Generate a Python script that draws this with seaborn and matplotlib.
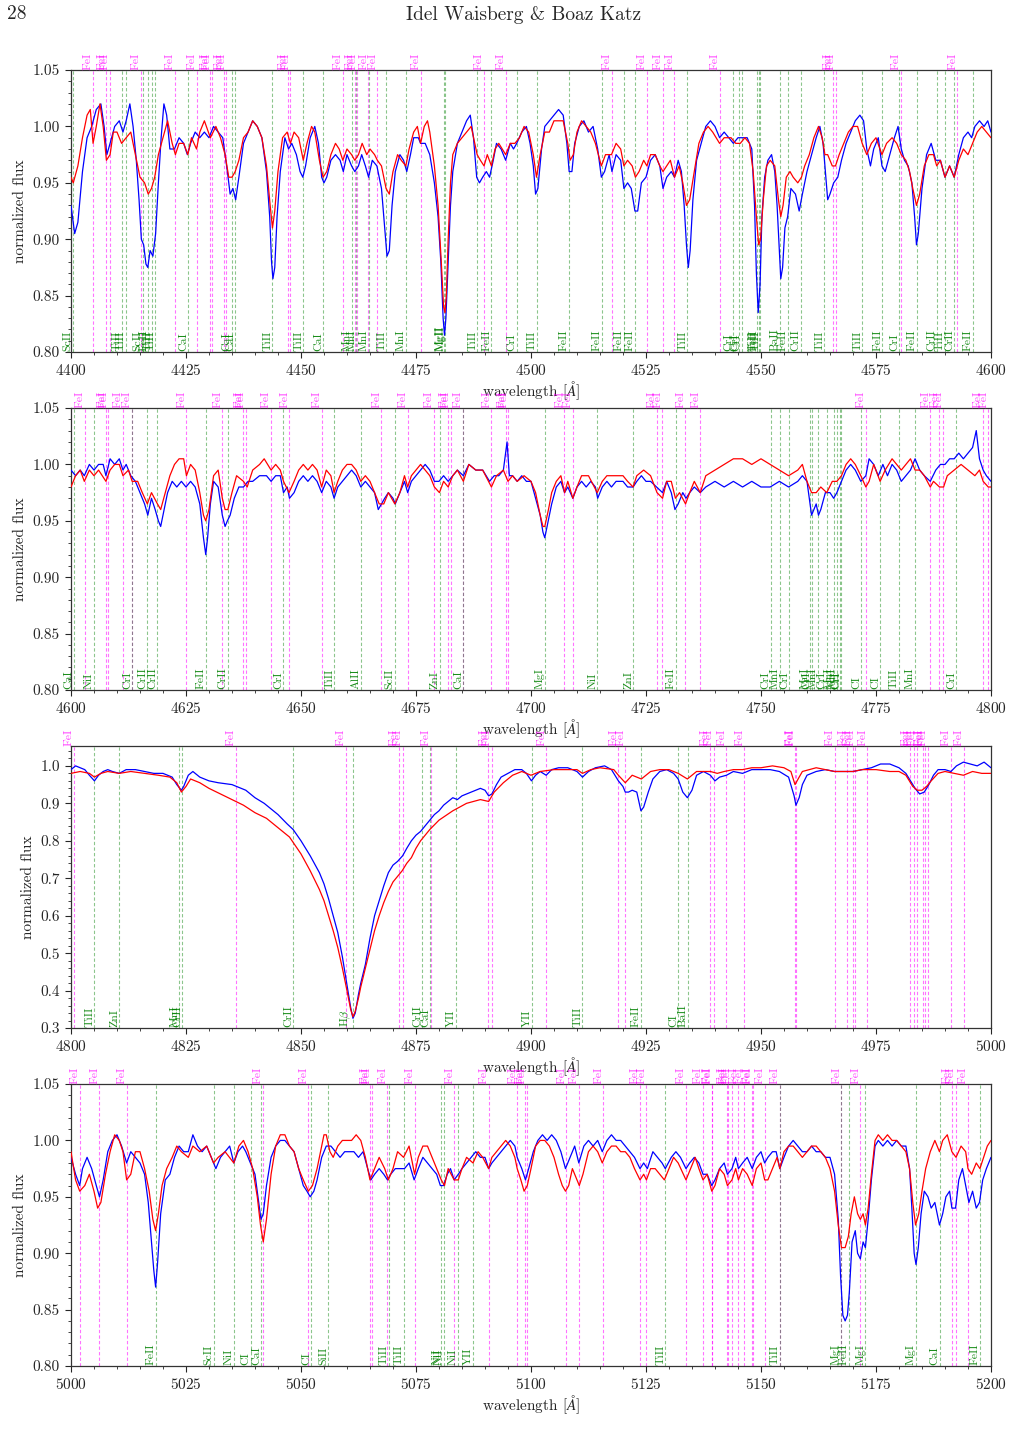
#!/usr/bin/env python
# filename: plot.py

import numpy as np
import matplotlib
matplotlib.use('Agg')
import matplotlib.pyplot as plt
import matplotlib.transforms as mtrans
from matplotlib.ticker import MultipleLocator, AutoMinorLocator
import seaborn as sns

# ---------------- panel 1: 4400-4600 ----------------
w1_obs = [4400.0, 4400.8, 4401.5, 4402.5, 4403.5, 4404.5, 4405.5, 4406.5, 4407.2, 4407.8, 4408.5, 4409.5,
          4410.5, 4411.3, 4412.0, 4412.8, 4413.5, 4414.2, 4414.8, 4415.3, 4415.8, 4416.3, 4416.7, 4417.2,
          4417.8, 4418.4, 4419.0, 4419.6, 4420.2, 4420.8, 4421.5, 4422.5, 4423.5, 4424.5, 4425.3, 4426.0,
          4427.0, 4428.0, 4429.0, 4430.0, 4431.0, 4432.0, 4433.0, 4434.0, 4434.6, 4435.2, 4435.8, 4436.5,
          4437.5, 4438.5, 4439.5, 4440.5, 4441.5, 4442.5, 4443.2, 4443.6, 4443.9, 4444.3, 4444.8, 4445.5,
          4446.5, 4447.3, 4448.0, 4449.0, 4449.8, 4450.4, 4451.0, 4452.0, 4453.0, 4453.8, 4454.5, 4455.0,
          4455.6, 4456.5, 4457.5, 4458.5, 4459.2, 4460.0, 4461.0, 4461.7, 4462.5, 4463.2, 4464.0, 4464.7,
          4465.5, 4466.5, 4467.5, 4468.3, 4468.7, 4469.2, 4469.8, 4470.5, 4471.5, 4472.3, 4473.0, 4473.8,
          4474.5, 4475.5, 4476.0, 4477.0, 4478.0, 4479.0, 4479.8, 4480.4, 4480.9, 4481.2, 4481.5, 4482.0,
          4482.5, 4483.0, 4484.0, 4485.0, 4486.0, 4486.8, 4487.5, 4488.2, 4488.8, 4489.5, 4490.3, 4491.0,
          4491.8, 4492.5, 4493.5, 4494.5, 4495.5, 4496.2, 4496.9, 4498.0, 4499.0, 4499.8, 4500.5, 4501.0,
          4501.5, 4502.3, 4503.0, 4504.0, 4505.0, 4506.0, 4507.0, 4507.8, 4508.3, 4508.9, 4509.5, 4510.5,
          4511.5, 4512.5, 4513.5, 4514.5, 4515.3, 4516.0, 4517.0, 4517.6, 4518.5, 4519.5, 4520.2, 4521.0,
          4521.8, 4522.6, 4523.2, 4524.0, 4525.0, 4526.0, 4527.0, 4528.0, 4528.7, 4529.5, 4530.5, 4531.2,
          4532.0, 4532.7, 4533.3, 4533.8, 4534.2, 4534.6, 4535.2, 4536.0, 4537.0, 4538.0, 4539.0, 4540.0,
          4541.0, 4542.0, 4543.0, 4544.0, 4545.0, 4546.0, 4547.0, 4548.0, 4548.6, 4549.0, 4549.4, 4549.8,
          4550.2, 4550.8, 4551.5, 4552.3, 4553.0, 4553.5, 4554.0, 4554.3, 4554.7, 4555.2, 4555.8, 4556.5,
          4557.5, 4558.3, 4559.0, 4560.0, 4561.0, 4562.0, 4562.8, 4563.5, 4564.0, 4564.5, 4565.0, 4565.8,
          4566.7, 4567.5, 4568.5, 4569.5, 4570.5, 4571.5, 4572.3, 4573.0, 4573.8, 4574.5, 4575.5, 4576.3,
          4577.0, 4578.0, 4579.0, 4579.8, 4580.5, 4581.2, 4582.0, 4582.8, 4583.4, 4583.8, 4584.2, 4585.0,
          4586.0, 4587.0, 4588.0, 4589.0, 4590.0, 4591.0, 4592.0, 4593.0, 4594.0, 4595.0, 4595.8, 4596.5,
          4597.5, 4598.5, 4599.3, 4600.0]
f1_obs = [0.930, 0.905, 0.915, 0.960, 0.990, 1.000, 1.015, 1.020, 1.000, 0.975, 0.985, 1.000,
          1.005, 0.995, 1.005, 1.020, 1.000, 0.970, 0.935, 0.900, 0.895, 0.878, 0.875, 0.890,
          0.885, 0.905, 0.950, 0.990, 1.020, 1.010, 0.980, 0.980, 0.990, 0.985, 0.975, 0.985,
          0.995, 0.990, 0.995, 0.990, 1.000, 0.995, 0.990, 0.960, 0.940, 0.945, 0.935, 0.955,
          0.985, 0.995, 1.005, 1.000, 0.990, 0.960, 0.920, 0.880, 0.865, 0.875, 0.920, 0.960,
          0.990, 0.980, 0.985, 0.975, 0.960, 0.955, 0.965, 0.990, 1.000, 0.985, 0.955, 0.950,
          0.955, 0.970, 0.975, 0.970, 0.960, 0.975, 0.965, 0.960, 0.965, 0.975, 0.965, 0.955,
          0.970, 0.965, 0.945, 0.905, 0.885, 0.890, 0.930, 0.960, 0.975, 0.970, 0.960, 0.975,
          0.990, 0.990, 0.985, 0.985, 0.975, 0.950, 0.920, 0.880, 0.830, 0.815, 0.830, 0.880,
          0.930, 0.960, 0.985, 0.995, 1.005, 1.010, 0.990, 0.955, 0.950, 0.955, 0.960, 0.955,
          0.970, 0.985, 0.980, 0.970, 0.985, 0.980, 0.985, 0.995, 1.000, 0.985, 0.965, 0.940,
          0.945, 0.980, 1.000, 1.005, 1.010, 1.015, 1.010, 0.985, 0.960, 0.960, 0.985, 1.000,
          1.005, 0.995, 1.000, 0.980, 0.955, 0.960, 0.975, 0.960, 0.975, 0.970, 0.945, 0.950,
          0.945, 0.925, 0.925, 0.950, 0.955, 0.970, 0.975, 0.965, 0.945, 0.955, 0.960, 0.955,
          0.970, 0.960, 0.930, 0.895, 0.875, 0.890, 0.935, 0.970, 0.985, 1.000, 1.005, 1.000,
          0.990, 0.995, 0.990, 0.985, 0.990, 0.990, 0.990, 0.980, 0.930, 0.870, 0.835, 0.860,
          0.920, 0.955, 0.970, 0.975, 0.960, 0.930, 0.890, 0.865, 0.875, 0.910, 0.920, 0.945,
          0.940, 0.925, 0.940, 0.960, 0.975, 0.990, 1.000, 0.985, 0.960, 0.935, 0.940, 0.950,
          0.955, 0.970, 0.985, 0.995, 1.005, 1.010, 1.005, 0.980, 0.965, 0.980, 0.990, 0.965,
          0.960, 0.975, 0.990, 1.000, 0.980, 0.970, 0.965, 0.950, 0.920, 0.895, 0.905, 0.945,
          0.975, 0.985, 0.970, 0.970, 0.955, 0.965, 0.955, 0.975, 0.990, 0.995, 0.990, 1.000,
          1.005, 1.000, 1.005, 0.995]
w1_mod = [4400.0, 4400.5, 4401.5, 4402.5, 4403.5, 4404.2, 4404.8, 4405.5, 4406.3, 4407.0, 4407.7, 4408.5,
          4409.2, 4410.0, 4411.0, 4412.0, 4413.0, 4414.0, 4415.0, 4416.0, 4416.8, 4417.5, 4418.2, 4419.0,
          4420.0, 4421.0, 4422.0, 4422.7, 4423.5, 4424.5, 4425.4, 4426.2, 4427.3, 4428.0, 4429.0, 4430.3,
          4431.5, 4432.5, 4433.5, 4434.3, 4435.0, 4435.7, 4436.5, 4437.5, 4438.5, 4439.5, 4440.5, 4441.5,
          4442.5, 4443.3, 4443.8, 4444.3, 4445.0, 4446.0, 4447.0, 4447.7, 4448.5, 4449.5, 4450.5, 4451.3,
          4452.3, 4453.0, 4454.0, 4454.8, 4455.6, 4456.5, 4457.5, 4458.3, 4459.1, 4460.0, 4461.0, 4461.7,
          4462.5, 4463.3, 4464.3, 4465.0, 4466.0, 4466.6, 4467.5, 4468.5, 4469.2, 4470.0, 4471.0, 4471.8,
          4472.8, 4473.5, 4474.5, 4475.3, 4476.0, 4476.8, 4477.5, 4478.0, 4479.0, 4479.8, 4480.5, 4481.0,
          4481.3, 4481.6, 4482.0, 4482.5, 4483.0, 4484.0, 4485.0, 4486.0, 4487.0, 4488.3, 4489.0, 4489.8,
          4490.5, 4491.4, 4492.2, 4493.0, 4494.5, 4495.5, 4496.5, 4497.5, 4498.5, 4499.5, 4500.5, 4501.2,
          4502.0, 4503.0, 4504.0, 4505.0, 4506.0, 4507.0, 4508.0, 4508.5, 4509.2, 4510.0, 4511.0, 4512.0,
          4513.0, 4514.0, 4515.3, 4516.2, 4517.5, 4518.5, 4519.5, 4520.2, 4521.0, 4522.0, 4522.7, 4523.5,
          4524.5, 4525.2, 4526.0, 4527.0, 4528.0, 4528.7, 4529.5, 4530.3, 4531.2, 4532.2, 4533.0, 4533.8,
          4534.5, 4535.5, 4536.5, 4537.5, 4538.5, 4539.5, 4541.0, 4542.0, 4543.5, 4544.5, 4545.5, 4546.5,
          4547.5, 4548.3, 4549.0, 4549.5, 4549.9, 4550.5, 4551.2, 4552.0, 4553.0, 4553.8, 4554.3, 4554.8,
          4555.5, 4556.3, 4557.0, 4558.0, 4558.8, 4559.5, 4560.5, 4561.5, 4562.5, 4563.3, 4563.9, 4564.5,
          4565.5, 4566.2, 4567.0, 4568.0, 4569.0, 4570.0, 4571.0, 4572.0, 4573.0, 4574.0, 4575.0, 4576.3,
          4577.3, 4578.5, 4579.5, 4580.5, 4581.5, 4582.3, 4583.0, 4583.8, 4584.5, 4585.5, 4586.5, 4587.5,
          4588.2, 4589.0, 4590.0, 4591.0, 4592.0, 4593.0, 4594.0, 4595.0, 4596.0, 4597.0, 4598.0, 4599.0,
          4600.0]
f1_mod = [0.955, 0.950, 0.965, 0.990, 1.010, 1.015, 0.985, 1.000, 1.020, 1.000, 0.970, 0.975,
          0.995, 0.995, 0.985, 0.990, 0.995, 0.975, 0.955, 0.950, 0.940, 0.945, 0.955, 0.975,
          0.990, 1.005, 0.985, 0.975, 0.985, 0.985, 0.975, 0.990, 0.980, 0.995, 1.005, 0.990,
          1.000, 0.990, 0.975, 0.955, 0.955, 0.960, 0.970, 0.990, 0.995, 1.005, 1.000, 0.990,
          0.965, 0.930, 0.910, 0.925, 0.960, 0.990, 0.995, 0.985, 0.995, 0.990, 0.970, 0.985,
          1.000, 0.995, 0.970, 0.955, 0.960, 0.975, 0.985, 0.980, 0.970, 0.980, 0.975, 0.970,
          0.975, 0.985, 0.975, 0.980, 0.975, 0.970, 0.965, 0.945, 0.940, 0.960, 0.975, 0.970,
          0.965, 0.980, 0.995, 1.000, 0.985, 1.000, 1.005, 0.995, 0.965, 0.930, 0.880, 0.840,
          0.835, 0.850, 0.900, 0.950, 0.975, 0.985, 0.990, 0.995, 1.000, 0.975, 0.970, 0.965,
          0.975, 0.965, 0.980, 0.985, 0.975, 0.985, 0.985, 0.990, 1.000, 0.995, 0.975, 0.955,
          0.975, 0.995, 0.995, 1.005, 1.005, 1.005, 0.985, 0.970, 0.975, 0.995, 1.005, 1.000,
          0.995, 0.985, 0.965, 0.975, 0.975, 0.985, 0.980, 0.965, 0.970, 0.965, 0.955, 0.960,
          0.970, 0.965, 0.975, 0.975, 0.965, 0.960, 0.965, 0.970, 0.955, 0.965, 0.950, 0.930,
          0.935, 0.960, 0.985, 0.995, 1.000, 0.995, 0.985, 0.990, 0.990, 0.985, 0.985, 0.990,
          0.985, 0.960, 0.920, 0.895, 0.900, 0.935, 0.965, 0.970, 0.965, 0.935, 0.920, 0.930,
          0.955, 0.960, 0.955, 0.950, 0.955, 0.965, 0.975, 0.990, 1.000, 0.990, 0.975, 0.975,
          0.965, 0.965, 0.975, 0.985, 0.995, 1.000, 1.000, 0.985, 0.975, 0.985, 0.990, 0.975,
          0.985, 0.990, 0.985, 0.975, 0.970, 0.960, 0.945, 0.930, 0.940, 0.965, 0.975, 0.975,
          0.965, 0.970, 0.955, 0.965, 0.955, 0.970, 0.980, 0.975, 0.985, 0.995, 1.000, 0.995,
          0.990]

# ---------------- panel 2: 4600-4800 ----------------
w2_obs = [4600.0, 4601.0, 4602.0, 4602.9, 4604.0, 4605.0, 4606.0, 4607.0, 4607.6, 4608.5, 4609.5, 4610.5,
          4611.3, 4612.0, 4613.0, 4614.0, 4615.0, 4616.0, 4616.7, 4617.5, 4618.3, 4619.0, 4619.5, 4620.0,
          4621.0, 4622.0, 4623.0, 4624.0, 4625.0, 4626.0, 4627.0, 4628.0, 4628.8, 4629.3, 4629.7, 4630.3,
          4631.0, 4632.0, 4632.9, 4633.5, 4634.0, 4634.6, 4635.5, 4636.5, 4637.5, 4638.5, 4639.5, 4641.0,
          4642.5, 4643.5, 4644.5, 4645.5, 4646.2, 4647.0, 4647.5, 4648.5, 4649.5, 4650.5, 4651.5, 4652.5,
          4653.5, 4654.5, 4655.5, 4656.5, 4657.2, 4658.0, 4659.0, 4660.0, 4661.0, 4662.0, 4663.0, 4664.0,
          4665.0, 4666.0, 4666.8, 4667.5, 4668.2, 4669.0, 4670.0, 4670.5, 4671.5, 4672.5, 4673.2, 4674.0,
          4675.0, 4676.0, 4677.0, 4678.0, 4679.0, 4680.0, 4681.0, 4682.0, 4683.0, 4684.0, 4685.3, 4686.5,
          4688.0, 4689.5, 4691.0, 4692.0, 4693.0, 4694.0, 4694.8, 4695.3, 4696.0, 4697.0, 4698.0, 4699.0,
          4700.0, 4701.0, 4702.0, 4702.6, 4703.0, 4703.5, 4704.5, 4705.5, 4706.5, 4707.3, 4708.0, 4709.1,
          4710.0, 4711.0, 4712.0, 4713.0, 4714.0, 4714.5, 4715.5, 4716.5, 4717.5, 4718.5, 4720.0, 4721.0,
          4722.2, 4723.0, 4724.0, 4725.0, 4726.0, 4727.3, 4728.6, 4729.5, 4730.5, 4731.3, 4732.0, 4733.0,
          4733.7, 4734.5, 4735.5, 4736.8, 4738.0, 4740.0, 4742.0, 4744.0, 4746.0, 4748.0, 4750.0, 4752.0,
          4754.0, 4756.0, 4758.0, 4759.0, 4760.0, 4760.5, 4761.0, 4761.5, 4762.0, 4762.5, 4763.0, 4764.0,
          4765.0, 4765.8, 4766.5, 4767.5, 4768.5, 4769.5, 4770.5, 4771.7, 4772.8, 4773.5, 4774.5, 4775.5,
          4776.5, 4777.5, 4778.5, 4779.5, 4780.5, 4781.5, 4782.5, 4783.5, 4784.5, 4785.5, 4786.8, 4788.0,
          4789.0, 4790.0, 4791.0, 4792.0, 4793.0, 4794.0, 4795.0, 4796.0, 4796.8, 4797.5, 4798.3, 4799.0,
          4800.0]
f2_obs = [0.995, 0.990, 0.995, 0.990, 1.000, 0.995, 1.000, 1.000, 0.990, 1.005, 1.000, 1.005,
          0.995, 1.000, 0.990, 0.985, 0.975, 0.965, 0.955, 0.970, 0.960, 0.950, 0.945, 0.955,
          0.975, 0.985, 0.980, 0.985, 0.980, 0.985, 0.980, 0.965, 0.935, 0.920, 0.935, 0.965,
          0.985, 0.980, 0.955, 0.945, 0.950, 0.955, 0.970, 0.980, 0.980, 0.985, 0.985, 0.990,
          0.990, 0.985, 0.990, 0.990, 0.975, 0.980, 0.970, 0.975, 0.985, 0.990, 0.985, 0.990,
          0.985, 0.975, 0.985, 0.980, 0.970, 0.980, 0.985, 0.990, 0.995, 0.990, 0.980, 0.985,
          0.980, 0.975, 0.960, 0.965, 0.970, 0.975, 0.970, 0.965, 0.975, 0.985, 0.975, 0.985,
          0.990, 0.995, 1.000, 0.995, 0.985, 0.985, 0.990, 0.985, 0.990, 0.995, 0.990, 1.000,
          0.995, 0.995, 0.985, 0.990, 0.990, 0.995, 1.020, 0.990, 0.990, 0.985, 0.990, 0.985,
          0.985, 0.970, 0.955, 0.940, 0.935, 0.945, 0.965, 0.980, 0.985, 0.975, 0.980, 0.970,
          0.980, 0.985, 0.980, 0.985, 0.980, 0.970, 0.980, 0.985, 0.980, 0.985, 0.985, 0.980,
          0.980, 0.985, 0.990, 0.985, 0.985, 0.980, 0.975, 0.985, 0.975, 0.960, 0.965, 0.975,
          0.970, 0.975, 0.980, 0.975, 0.980, 0.985, 0.980, 0.985, 0.980, 0.985, 0.980, 0.980,
          0.985, 0.980, 0.985, 0.990, 0.985, 0.970, 0.955, 0.960, 0.965, 0.955, 0.960, 0.975,
          0.975, 0.970, 0.975, 0.985, 0.995, 1.000, 0.995, 0.985, 0.990, 1.005, 1.000, 0.990,
          1.000, 0.990, 1.000, 0.995, 0.985, 0.990, 0.995, 1.005, 0.995, 0.990, 0.985, 0.995,
          1.000, 1.000, 1.005, 1.005, 1.010, 1.005, 1.010, 1.015, 1.030, 1.005, 0.995, 0.990,
          0.985]
w2_mod = [4600.0, 4601.0, 4602.0, 4602.9, 4604.0, 4605.0, 4606.0, 4607.6, 4608.5, 4609.5, 4610.5, 4611.3,
          4612.5, 4613.3, 4614.5, 4615.5, 4616.6, 4617.5, 4618.8, 4619.5, 4620.5, 4621.5, 4622.5, 4623.5,
          4624.5, 4625.1, 4626.0, 4627.0, 4628.0, 4628.8, 4629.3, 4630.0, 4631.0, 4632.0, 4632.9, 4633.5,
          4634.1, 4635.0, 4636.0, 4637.5, 4638.3, 4639.5, 4641.0, 4642.0, 4643.5, 4644.5, 4645.5, 4646.2,
          4647.4, 4648.5, 4649.5, 4650.5, 4651.5, 4652.5, 4653.5, 4654.5, 4655.5, 4656.5, 4657.2, 4658.0,
          4659.0, 4660.0, 4661.0, 4662.0, 4663.0, 4664.0, 4665.0, 4666.0, 4667.0, 4668.0, 4669.0, 4670.4,
          4671.5, 4672.5, 4673.2, 4674.0, 4675.0, 4676.0, 4677.0, 4678.0, 4679.0, 4680.1, 4681.0, 4682.0,
          4683.0, 4684.0, 4685.3, 4686.5, 4688.0, 4689.5, 4691.4, 4692.5, 4694.0, 4695.0, 4696.0, 4697.0,
          4698.5, 4700.0, 4701.0, 4702.0, 4702.6, 4703.0, 4703.8, 4704.5, 4705.5, 4706.5, 4707.3, 4708.0,
          4709.1, 4710.0, 4711.0, 4712.5, 4714.4, 4715.5, 4716.5, 4718.0, 4720.0, 4721.0, 4722.2, 4723.0,
          4724.5, 4726.0, 4727.4, 4728.6, 4729.5, 4730.5, 4731.4, 4732.3, 4733.6, 4734.5, 4735.5, 4736.8,
          4738.0, 4740.0, 4742.0, 4744.0, 4746.0, 4748.0, 4750.0, 4752.0, 4754.0, 4756.0, 4758.0, 4759.0,
          4760.0, 4761.0, 4762.0, 4763.0, 4764.3, 4765.5, 4766.5, 4767.5, 4768.5, 4769.5, 4770.5, 4771.7,
          4772.8, 4773.5, 4774.5, 4775.9, 4777.0, 4778.5, 4779.5, 4780.5, 4781.5, 4782.5, 4783.5, 4784.5,
          4785.5, 4786.8, 4787.5, 4788.8, 4789.7, 4790.5, 4792.0, 4793.5, 4795.0, 4796.5, 4797.5, 4798.3,
          4799.4, 4800.0]
f2_mod = [0.980, 0.990, 0.995, 0.985, 0.995, 0.990, 0.995, 0.985, 0.995, 1.000, 1.000, 0.990,
          0.995, 0.985, 0.985, 0.975, 0.965, 0.975, 0.965, 0.960, 0.975, 0.990, 1.000, 1.005,
          1.005, 0.990, 1.000, 0.995, 0.975, 0.955, 0.950, 0.960, 0.990, 0.995, 0.970, 0.960,
          0.960, 0.975, 0.990, 0.985, 0.980, 0.995, 1.000, 1.005, 0.995, 1.000, 0.995, 0.985,
          0.975, 0.985, 0.995, 1.000, 0.995, 1.000, 0.995, 0.980, 0.995, 0.990, 0.975, 0.985,
          0.995, 1.000, 1.000, 0.995, 0.985, 0.990, 0.985, 0.975, 0.965, 0.965, 0.975, 0.965,
          0.975, 0.990, 0.980, 0.990, 0.995, 1.000, 0.995, 0.990, 0.980, 0.975, 0.985, 0.980,
          0.990, 0.995, 0.985, 1.000, 0.995, 0.995, 0.980, 0.990, 0.995, 0.985, 0.990, 0.985,
          0.990, 0.985, 0.975, 0.955, 0.945, 0.945, 0.960, 0.975, 0.985, 0.990, 0.975, 0.985,
          0.970, 0.980, 0.990, 0.990, 0.975, 0.985, 0.990, 0.990, 0.990, 0.985, 0.980, 0.990,
          0.995, 0.990, 0.975, 0.970, 0.985, 0.985, 0.970, 0.975, 0.965, 0.975, 0.985, 0.975,
          0.990, 0.995, 1.000, 1.005, 1.005, 1.000, 1.005, 1.000, 0.995, 0.990, 0.995, 1.000,
          0.985, 0.975, 0.975, 0.980, 0.975, 0.985, 0.985, 0.990, 1.000, 1.005, 1.000, 0.990,
          0.980, 0.985, 1.000, 0.985, 0.995, 1.005, 1.000, 0.995, 1.000, 1.005, 0.995, 0.995,
          0.990, 0.980, 0.985, 0.980, 0.980, 0.990, 0.995, 1.000, 0.995, 0.990, 0.995, 0.985,
          0.980, 0.980]

# ---------------- panel 3: 4800-5000 (H beta) ----------------
w3_obs = [4800.0, 4801.0, 4802.0, 4803.0, 4804.0, 4805.1, 4806.0, 4807.0, 4808.0, 4809.0, 4810.5, 4812.0,
          4814.0, 4816.0, 4818.0, 4820.0, 4822.0, 4823.0, 4824.0, 4824.5, 4825.5, 4826.5, 4828.0, 4830.0,
          4832.0, 4835.0, 4838.0, 4840.0, 4842.0, 4845.0, 4847.0, 4848.3, 4850.0, 4852.0, 4854.0, 4855.0,
          4856.0, 4857.0, 4858.0, 4859.0, 4860.0, 4860.8, 4861.3, 4861.8, 4862.5, 4863.0, 4864.0, 4865.0,
          4866.0, 4867.0, 4868.0, 4869.0, 4870.0, 4871.0, 4872.1, 4873.0, 4874.0, 4875.0, 4876.0, 4877.0,
          4878.0, 4879.0, 4880.0, 4881.0, 4882.0, 4883.0, 4884.0, 4885.0, 4886.0, 4887.0, 4888.0, 4889.0,
          4890.0, 4890.8, 4891.5, 4892.5, 4893.5, 4895.0, 4896.5, 4898.0, 4899.0, 4900.1, 4901.0, 4902.0,
          4903.3, 4904.5, 4906.0, 4908.0, 4910.0, 4911.2, 4912.5, 4914.0, 4916.0, 4917.5, 4919.0, 4920.0,
          4920.5, 4921.2, 4922.0, 4923.0, 4923.9, 4924.5, 4925.5, 4926.5, 4928.0, 4929.5, 4931.0, 4932.0,
          4933.0, 4934.0, 4935.0, 4936.0, 4937.5, 4939.0, 4940.0, 4941.0, 4942.5, 4944.0, 4946.0, 4948.0,
          4950.0, 4952.0, 4954.0, 4956.0, 4957.2, 4957.6, 4958.3, 4959.0, 4960.0, 4962.0, 4964.0, 4966.0,
          4968.0, 4970.0, 4972.0, 4974.0, 4976.0, 4978.0, 4980.0, 4981.5, 4982.5, 4983.5, 4984.5, 4985.5,
          4986.5, 4987.5, 4988.5, 4990.0, 4991.3, 4992.5, 4994.0, 4995.5, 4997.0, 4998.5, 5000.0]
f3_obs = [0.990, 1.000, 0.995, 0.990, 0.975, 0.960, 0.975, 0.985, 0.990, 0.985, 0.980, 0.990,
          0.990, 0.985, 0.980, 0.980, 0.970, 0.950, 0.935, 0.945, 0.975, 0.985, 0.970, 0.960,
          0.955, 0.950, 0.935, 0.915, 0.900, 0.870, 0.845, 0.830, 0.800, 0.760, 0.715, 0.685,
          0.645, 0.600, 0.555, 0.490, 0.415, 0.355, 0.326, 0.340, 0.390, 0.420, 0.470, 0.540,
          0.600, 0.640, 0.680, 0.715, 0.735, 0.745, 0.760, 0.780, 0.800, 0.815, 0.825, 0.840,
          0.855, 0.870, 0.880, 0.895, 0.905, 0.915, 0.910, 0.920, 0.925, 0.930, 0.935, 0.940,
          0.935, 0.920, 0.925, 0.950, 0.970, 0.980, 0.990, 0.990, 0.980, 0.960, 0.975, 0.985,
          0.975, 0.990, 0.995, 0.995, 0.985, 0.970, 0.985, 0.995, 1.000, 0.990, 0.960, 0.945,
          0.930, 0.930, 0.935, 0.930, 0.880, 0.890, 0.930, 0.965, 0.985, 0.990, 0.980, 0.965,
          0.930, 0.915, 0.935, 0.975, 0.985, 0.975, 0.960, 0.970, 0.975, 0.985, 0.980, 0.990,
          0.990, 0.990, 0.985, 0.970, 0.920, 0.895, 0.915, 0.950, 0.975, 0.985, 0.990, 0.985,
          0.985, 0.985, 0.990, 0.995, 1.005, 1.005, 0.995, 0.980, 0.960, 0.940, 0.925, 0.930,
          0.950, 0.975, 0.990, 0.990, 0.985, 1.000, 1.010, 1.005, 1.000, 1.010, 0.995]
w3_mod = [4800.0, 4802.0, 4804.0, 4805.1, 4806.5, 4808.0, 4810.5, 4813.0, 4816.0, 4819.0, 4821.5, 4823.0,
          4824.0, 4825.0, 4826.0, 4828.0, 4830.0, 4832.5, 4835.0, 4837.5, 4840.0, 4842.5, 4845.0, 4847.5,
          4850.0, 4852.0, 4854.0, 4855.0, 4856.0, 4857.0, 4858.0, 4859.0, 4860.0, 4860.8, 4861.3, 4861.8,
          4862.5, 4863.0, 4864.0, 4865.0, 4866.0, 4867.0, 4868.0, 4869.0, 4870.0, 4871.0, 4872.0, 4873.0,
          4874.0, 4875.0, 4876.0, 4877.0, 4878.0, 4880.0, 4883.0, 4886.0, 4889.0, 4890.8, 4892.0, 4894.0,
          4896.0, 4898.0, 4900.0, 4902.0, 4905.0, 4908.0, 4910.0, 4911.2, 4913.0, 4915.0, 4918.0, 4919.0,
          4920.5, 4922.0, 4924.0, 4926.0, 4928.0, 4930.0, 4932.0, 4934.0, 4936.0, 4939.0, 4940.5, 4942.0,
          4944.0, 4946.0, 4948.0, 4950.0, 4952.5, 4955.0, 4956.5, 4957.4, 4958.3, 4959.0, 4962.0, 4964.0,
          4966.0, 4968.0, 4970.0, 4972.0, 4975.0, 4978.0, 4980.0, 4981.5, 4983.0, 4984.0, 4985.0, 4986.0,
          4987.0, 4988.5, 4990.0, 4992.0, 4994.0, 4996.0, 4998.0, 5000.0]
f3_mod = [0.980, 0.985, 0.980, 0.970, 0.980, 0.985, 0.980, 0.985, 0.980, 0.975, 0.970, 0.955,
          0.930, 0.945, 0.965, 0.955, 0.940, 0.925, 0.910, 0.895, 0.875, 0.860, 0.835, 0.810,
          0.765, 0.720, 0.670, 0.640, 0.600, 0.560, 0.515, 0.460, 0.400, 0.350, 0.330, 0.345,
          0.380, 0.410, 0.460, 0.510, 0.560, 0.600, 0.635, 0.665, 0.690, 0.705, 0.720, 0.740,
          0.755, 0.780, 0.800, 0.815, 0.830, 0.855, 0.880, 0.900, 0.910, 0.905, 0.930, 0.955,
          0.975, 0.985, 0.975, 0.985, 0.990, 0.990, 0.990, 0.980, 0.990, 0.995, 0.990, 0.975,
          0.955, 0.975, 0.965, 0.985, 0.990, 0.990, 0.980, 0.965, 0.985, 0.985, 0.980, 0.985,
          0.990, 0.990, 0.995, 0.995, 1.000, 0.995, 0.985, 0.950, 0.970, 0.985, 0.995, 0.990,
          0.985, 0.985, 0.985, 0.990, 0.990, 0.985, 0.985, 0.975, 0.945, 0.935, 0.935, 0.945,
          0.960, 0.980, 0.985, 0.980, 0.975, 0.985, 0.980, 0.980]

# ---------------- panel 4: 5000-5200 ----------------
w4_obs = [5000.0, 5001.0, 5001.9, 5002.5, 5003.5, 5004.5, 5005.5, 5006.2, 5007.0, 5008.0, 5009.0, 5010.0,
          5011.0, 5012.1, 5013.0, 5014.0, 5015.0, 5016.0, 5016.8, 5017.5, 5018.0, 5018.4, 5018.8, 5019.5,
          5020.5, 5021.5, 5022.5, 5023.5, 5024.5, 5025.5, 5026.5, 5027.5, 5028.5, 5029.5, 5030.5, 5031.5,
          5032.5, 5033.5, 5034.5, 5035.4, 5036.3, 5037.3, 5038.0, 5039.0, 5040.0, 5040.8, 5041.3, 5041.8,
          5042.5, 5043.5, 5044.5, 5045.5, 5046.5, 5047.5, 5048.5, 5049.5, 5050.5, 5051.3, 5052.0, 5052.8,
          5053.5, 5054.5, 5055.5, 5056.5, 5057.5, 5058.5, 5059.5, 5060.5, 5061.5, 5062.5, 5063.5, 5064.5,
          5065.2, 5066.0, 5067.0, 5068.0, 5068.8, 5069.5, 5070.5, 5071.5, 5072.5, 5073.5, 5074.6, 5075.5,
          5076.5, 5077.5, 5078.5, 5079.5, 5080.3, 5081.0, 5081.8, 5082.5, 5083.3, 5084.2, 5085.0, 5086.0,
          5087.0, 5088.0, 5089.0, 5090.0, 5090.8, 5091.5, 5092.5, 5093.5, 5094.5, 5095.5, 5096.5, 5097.0,
          5098.0, 5098.8, 5099.5, 5100.5, 5101.5, 5102.5, 5103.5, 5104.5, 5105.5, 5106.5, 5107.5, 5108.5,
          5109.5, 5110.4, 5111.5, 5112.5, 5113.5, 5114.5, 5115.5, 5116.5, 5117.5, 5118.5, 5119.5, 5120.5,
          5121.5, 5122.5, 5123.7, 5124.5, 5125.3, 5126.5, 5127.5, 5128.5, 5129.2, 5130.5, 5131.5, 5132.5,
          5133.7, 5134.5, 5135.5, 5136.5, 5137.4, 5138.3, 5139.3, 5140.0, 5141.0, 5142.0, 5142.7, 5143.7,
          5144.5, 5145.1, 5146.0, 5147.0, 5148.1, 5149.0, 5150.0, 5150.8, 5151.5, 5152.5, 5153.3, 5154.1,
          5155.0, 5156.0, 5157.0, 5158.0, 5159.0, 5160.0, 5161.0, 5162.0, 5163.0, 5164.0, 5165.0, 5166.0,
          5166.8, 5167.3, 5167.8, 5168.3, 5168.8, 5169.2, 5169.8, 5170.5, 5171.0, 5171.6, 5172.2, 5172.7,
          5173.3, 5174.0, 5174.8, 5175.5, 5176.5, 5177.5, 5178.5, 5179.5, 5180.5, 5181.5, 5182.3, 5182.8,
          5183.3, 5183.7, 5184.2, 5184.8, 5185.5, 5186.3, 5187.0, 5187.8, 5188.8, 5189.5, 5190.2, 5191.0,
          5191.5, 5192.3, 5193.0, 5193.8, 5194.5, 5195.2, 5196.0, 5196.8, 5197.5, 5198.2, 5199.0, 5200.0]
f4_obs = [0.985, 0.970, 0.960, 0.975, 0.985, 0.975, 0.960, 0.950, 0.965, 0.990, 1.000, 1.005,
          0.995, 0.980, 0.990, 0.985, 0.980, 0.970, 0.945, 0.910, 0.885, 0.870, 0.890, 0.935,
          0.965, 0.970, 0.985, 0.995, 0.990, 0.990, 1.005, 0.995, 0.990, 0.995, 0.985, 0.975,
          0.985, 0.990, 0.995, 0.980, 0.990, 0.995, 0.990, 0.980, 0.970, 0.945, 0.930, 0.935,
          0.960, 0.985, 0.995, 1.000, 1.000, 0.995, 0.990, 0.975, 0.960, 0.955, 0.950, 0.955,
          0.965, 0.985, 0.995, 0.995, 0.990, 0.985, 0.990, 0.990, 0.990, 0.985, 0.990, 0.975,
          0.965, 0.970, 0.975, 0.970, 0.965, 0.970, 0.975, 0.975, 0.975, 0.980, 0.965, 0.975,
          0.985, 0.980, 0.975, 0.970, 0.960, 0.960, 0.970, 0.975, 0.965, 0.970, 0.975, 0.980,
          0.985, 0.990, 0.985, 0.985, 0.975, 0.980, 0.985, 0.990, 0.995, 1.000, 0.995, 0.985,
          0.975, 0.965, 0.975, 0.990, 1.000, 1.005, 1.000, 1.005, 1.000, 0.990, 0.975, 0.985,
          0.995, 0.980, 0.995, 1.000, 0.995, 1.000, 0.990, 1.000, 1.005, 1.000, 1.000, 0.995,
          0.990, 0.985, 0.975, 0.980, 0.975, 0.990, 0.985, 0.980, 0.975, 0.985, 0.990, 0.985,
          0.975, 0.980, 0.985, 0.980, 0.970, 0.970, 0.960, 0.965, 0.975, 0.980, 0.970, 0.975,
          0.985, 0.975, 0.980, 0.985, 0.975, 0.985, 0.990, 0.980, 0.985, 0.990, 0.990, 0.975,
          0.985, 0.995, 1.000, 0.995, 0.990, 0.990, 0.995, 0.990, 0.990, 0.985, 0.985, 0.970,
          0.930, 0.880, 0.845, 0.840, 0.845, 0.865, 0.910, 0.920, 0.900, 0.895, 0.910, 0.905,
          0.930, 0.965, 0.995, 1.000, 0.995, 1.000, 0.995, 1.000, 0.995, 0.995, 0.975, 0.940,
          0.900, 0.890, 0.905, 0.935, 0.955, 0.950, 0.940, 0.945, 0.925, 0.935, 0.950, 0.955,
          0.940, 0.940, 0.965, 0.975, 0.960, 0.945, 0.955, 0.940, 0.945, 0.965, 0.975, 0.985]
w4_mod = [5000.0, 5001.0, 5001.9, 5003.0, 5004.0, 5005.0, 5005.8, 5006.5, 5007.5, 5008.5, 5009.5, 5010.5,
          5011.3, 5012.1, 5013.0, 5014.0, 5015.0, 5016.0, 5017.0, 5017.8, 5018.4, 5019.0, 5019.8, 5020.8,
          5022.0, 5023.0, 5024.0, 5025.5, 5026.5, 5028.0, 5029.5, 5031.0, 5032.0, 5033.5, 5035.4, 5036.5,
          5037.5, 5038.5, 5039.5, 5040.5, 5041.2, 5041.8, 5042.5, 5043.5, 5044.5, 5045.5, 5046.5, 5047.5,
          5048.5, 5049.5, 5050.5, 5051.6, 5052.5, 5053.5, 5054.5, 5055.0, 5055.5, 5056.3, 5057.0, 5058.0,
          5059.0, 5060.0, 5061.0, 5062.0, 5063.0, 5064.0, 5065.0, 5066.0, 5067.0, 5068.2, 5069.0, 5070.0,
          5071.0, 5072.3, 5073.5, 5074.7, 5075.5, 5076.5, 5077.5, 5078.5, 5079.5, 5080.5, 5081.2, 5082.0,
          5083.3, 5084.2, 5085.0, 5086.0, 5087.4, 5088.5, 5089.5, 5090.8, 5091.5, 5092.5, 5093.5, 5094.5,
          5095.5, 5096.5, 5097.0, 5097.8, 5098.5, 5099.2, 5100.0, 5101.0, 5102.0, 5103.0, 5104.0, 5105.0,
          5106.0, 5106.8, 5107.5, 5108.2, 5109.0, 5110.0, 5110.5, 5111.3, 5112.5, 5113.5, 5114.5, 5115.5,
          5116.5, 5117.5, 5118.5, 5119.5, 5120.5, 5121.5, 5122.5, 5123.7, 5124.5, 5125.1, 5126.0, 5127.0,
          5128.0, 5129.0, 5130.0, 5131.0, 5132.0, 5133.7, 5134.7, 5135.7, 5136.5, 5137.4, 5138.3, 5139.3,
          5140.0, 5141.0, 5142.0, 5142.7, 5143.7, 5144.5, 5145.1, 5146.0, 5147.0, 5148.1, 5149.0, 5150.0,
          5150.8, 5151.5, 5152.5, 5153.5, 5154.1, 5155.0, 5156.0, 5157.0, 5158.0, 5159.0, 5160.0, 5161.0,
          5162.0, 5163.0, 5164.0, 5165.0, 5166.0, 5166.8, 5167.5, 5168.3, 5169.0, 5169.6, 5170.3, 5171.0,
          5171.6, 5172.2, 5172.7, 5173.3, 5174.0, 5174.8, 5175.5, 5176.5, 5177.5, 5178.5, 5179.5, 5180.5,
          5181.5, 5182.3, 5183.0, 5183.6, 5184.3, 5185.0, 5185.8, 5186.8, 5187.8, 5188.8, 5189.5, 5190.5,
          5191.5, 5192.4, 5193.5, 5194.5, 5195.0, 5195.8, 5196.8, 5197.6, 5198.4, 5199.2, 5200.0]
f4_mod = [0.990, 0.965, 0.955, 0.960, 0.970, 0.955, 0.940, 0.945, 0.970, 0.990, 1.005, 1.000,
          0.990, 0.965, 0.970, 0.990, 0.990, 0.975, 0.955, 0.930, 0.920, 0.935, 0.960, 0.975,
          0.985, 0.995, 0.990, 0.985, 0.995, 0.990, 0.995, 0.980, 0.985, 0.990, 0.980, 0.995,
          1.000, 0.990, 0.975, 0.950, 0.925, 0.910, 0.930, 0.970, 0.995, 1.005, 1.005, 0.995,
          0.990, 0.975, 0.965, 0.955, 0.960, 0.975, 0.995, 1.005, 1.005, 0.990, 0.985, 0.995,
          1.000, 1.000, 1.000, 1.005, 1.000, 0.985, 0.965, 0.975, 0.985, 0.975, 0.965, 0.975,
          0.990, 0.985, 0.995, 0.970, 0.985, 0.995, 0.995, 0.985, 0.975, 0.965, 0.960, 0.975,
          0.965, 0.965, 0.975, 0.985, 0.980, 0.990, 0.985, 0.975, 0.985, 0.990, 0.995, 1.000,
          0.995, 0.985, 0.975, 0.965, 0.955, 0.960, 0.975, 0.995, 1.000, 1.000, 0.995, 0.985,
          0.970, 0.960, 0.955, 0.960, 0.975, 0.965, 0.960, 0.970, 0.990, 0.995, 0.990, 0.980,
          0.990, 0.995, 0.995, 0.990, 0.990, 0.985, 0.975, 0.965, 0.970, 0.965, 0.975, 0.975,
          0.970, 0.965, 0.975, 0.985, 0.980, 0.965, 0.975, 0.985, 0.975, 0.965, 0.970, 0.955,
          0.960, 0.975, 0.970, 0.960, 0.965, 0.975, 0.965, 0.975, 0.970, 0.960, 0.975, 0.980,
          0.965, 0.965, 0.975, 0.985, 0.975, 0.990, 0.995, 0.995, 0.990, 0.985, 0.990, 0.995,
          0.995, 0.990, 0.985, 0.975, 0.955, 0.925, 0.905, 0.905, 0.915, 0.935, 0.950, 0.935,
          0.930, 0.935, 0.925, 0.940, 0.970, 1.000, 1.005, 1.000, 1.005, 1.000, 1.000, 0.995,
          0.990, 0.975, 0.945, 0.925, 0.935, 0.955, 0.975, 0.990, 1.000, 0.990, 1.000, 1.005,
          0.990, 0.985, 0.995, 0.990, 0.975, 0.970, 0.980, 0.975, 0.985, 0.995, 1.000]

# ---------------- line identifications ----------------
# FeI (magenta, labelled at top)
fe1_p1 = [4404.75, 4407.71, 4408.42, 4415.12, 4422.57, 4427.31, 4430.19, 4430.61, 4433.22, 4433.78,
          4447.13, 4447.72, 4459.12, 4461.65, 4462.20, 4464.60, 4466.55, 4476.02, 4489.74, 4494.56,
          4517.53, 4525.14, 4528.61, 4531.15, 4541.10, 4565.60, 4566.30, 4580.40, 4592.65]
fe1_p2 = [4602.94, 4607.65, 4608.10, 4611.28, 4613.20, 4625.05, 4632.91, 4637.50, 4638.01, 4643.46,
          4647.43, 4654.50, 4667.45, 4673.16, 4678.85, 4682.00, 4682.56, 4685.20, 4691.41, 4694.60,
          4695.10, 4707.27, 4709.09, 4727.40, 4728.55, 4733.59, 4736.77, 4772.82, 4786.81, 4788.76,
          4789.65, 4798.27, 4799.41]
fe1_p3 = [4800.65, 4835.87, 4859.74, 4871.32, 4872.14, 4878.21, 4890.76, 4891.49, 4903.31, 4918.99,
          4920.50, 4938.81, 4939.69, 4942.49, 4946.39, 4957.30, 4957.60, 4966.09, 4968.80, 4969.92,
          4970.50, 4973.10, 4982.50, 4983.25, 4983.85, 4985.25, 4985.55, 4986.22, 4991.27, 4994.13]
fe1_p4 = [5001.86, 5006.12, 5012.07, 5041.76, 5051.63, 5065.00, 5065.40, 5068.77, 5074.75, 5083.34,
          5090.77, 5097.00, 5098.70, 5099.08, 5107.64, 5110.41, 5115.70, 5123.72, 5125.10, 5133.69,
          5137.38, 5139.25, 5139.46, 5142.53, 5142.93, 5143.72, 5145.10, 5146.30, 5148.04, 5148.23,
          5150.84, 5154.10, 5167.49, 5171.60, 5191.46, 5192.34, 5194.94]

# other species (green, labelled at bottom)
ion_p1 = ['ScII', 'TiII', 'TiII', 'ScII', 'FeII', 'TiII', 'TiII', 'CaI', 'CaI', 'CaI', 'TiII', 'TiII',
          'CaI', 'MnI', 'MnI', 'MnI', 'TiII', 'MnI', 'MgII', 'MgII', 'TiII', 'FeII', 'CrI', 'TiII',
          'FeII', 'FeII', 'FeII', 'FeII', 'TiII', 'CrI', 'CrI', 'CrI', 'TiII', 'FeII', 'TiII', 'BaII',
          'FeII', 'CrII', 'TiII', 'TiII', 'FeII', 'CrI', 'FeII', 'CrII', 'TiII', 'CrII', 'FeII']
wl_p1 = [4400.39, 4411.07, 4411.93, 4415.56, 4416.82, 4417.72, 4418.33, 4425.44, 4434.96, 4435.69,
         4443.80, 4450.48, 4454.78, 4461.08, 4462.03, 4464.68, 4468.49, 4472.79, 4481.13, 4481.33,
         4488.33, 4491.40, 4496.86, 4501.27, 4508.28, 4515.34, 4520.22, 4522.63, 4533.97, 4544.00,
         4545.20, 4545.80, 4549.20, 4549.50, 4549.80, 4554.03, 4555.89, 4558.65, 4563.76, 4571.97,
         4576.33, 4580.06, 4583.84, 4588.20, 4589.96, 4592.05, 4596.00]
ion_p2 = ['CaI', 'NiI', 'CrI', 'CrII', 'CrII', 'FeII', 'CrII', 'CrI', 'TiII', 'AlII', 'ScII', 'ZnI',
          'CaI', 'MgI', 'NiI', 'ZnI', 'FeII', 'CrI', 'MnI', 'CrI', 'MnI', 'CrI', 'MnI', 'CrI',
          'MnI', 'MnI', 'CrI', 'CrI', 'CI', 'CI', 'TiII', 'MnI', 'CrI']
wl_p2 = [4600.60, 4604.99, 4613.37, 4616.63, 4618.80, 4629.34, 4634.07, 4646.17, 4657.20, 4663.05,
         4670.41, 4680.14, 4685.27, 4702.99, 4714.42, 4722.16, 4731.44, 4752.10, 4754.04, 4756.11,
         4760.60, 4761.00, 4762.37, 4764.30, 4765.86, 4766.42, 4767.20, 4767.50, 4771.74, 4775.90,
         4779.98, 4783.42, 4792.40]
ion_p3 = ['TiII', 'ZnI', 'MnI', 'CrII', 'CrII', r'H$\beta$', 'CrII', 'CaI', 'YII', 'YII', 'TiII',
          'FeII', 'CI', 'BaII']
wl_p3 = [4805.09, 4810.53, 4823.52, 4824.13, 4848.25, 4861.33, 4876.41, 4878.13, 4883.68, 4900.12,
         4911.19, 4923.93, 4932.05, 4934.08]
ion_p4 = ['FeII', 'ScII', 'NiI', 'CI', 'CaI', 'CI', 'SiII', 'TiII', 'TiII', 'NiI', 'NiI', 'NiI',
          'YII', 'TiII', 'TiII', 'MgI', 'FeII', 'MgI', 'MgI', 'CaI', 'FeII']
wl_p4 = [5018.44, 5031.02, 5035.36, 5039.10, 5041.40, 5052.17, 5055.98, 5069.09, 5072.29, 5080.53,
         5081.11, 5084.10, 5087.42, 5129.16, 5154.07, 5167.32, 5169.03, 5172.68, 5183.60, 5188.85,
         5197.58]

panels = [
    (4400, 4600, (0.80, 1.05), 0.05, w1_obs, f1_obs, w1_mod, f1_mod, fe1_p1, ion_p1, wl_p1),
    (4600, 4800, (0.80, 1.05), 0.05, w2_obs, f2_obs, w2_mod, f2_mod, fe1_p2, ion_p2, wl_p2),
    (4800, 5000, (0.30, 1.053), 0.1, w3_obs, f3_obs, w3_mod, f3_mod, fe1_p3, ion_p3, wl_p3),
    (5000, 5200, (0.80, 1.05), 0.05, w4_obs, f4_obs, w4_mod, f4_mod, fe1_p4, ion_p4, wl_p4),
]

sns.set_style('ticks')
plt.rcParams['font.family'] = ['cmr10', 'DejaVu Serif']
plt.rcParams['mathtext.fontset'] = 'cm'
plt.rcParams['axes.formatter.use_mathtext'] = True
plt.rcParams['axes.unicode_minus'] = False

fig = plt.figure(figsize=(10.14, 14.5), dpi=100)

# axes boxes in figure fraction (left, bottom, width, height)
boxes = [(0.0700, 0.7572, 0.9073, 0.1945),
         (0.0700, 0.5241, 0.9073, 0.1945),
         (0.0700, 0.2910, 0.9073, 0.1945),
         (0.0700, 0.0579, 0.9073, 0.1945)]

for box, (x0, x1, ylim, ystep, wo, fo, wm, fm, fe, ions, wls) in zip(boxes, panels):
    ax = fig.add_axes(box)
    trans = mtrans.blended_transform_factory(ax.transData, ax.transAxes)

    # FeI lines
    for w in fe:
        ax.axvline(w, color='magenta', ls=(0, (3, 2)), lw=0.8, alpha=0.55, zorder=1)
        ax.text(w, 1.0, 'FeI', transform=trans, rotation=90, ha='right', va='bottom',
                fontsize=8.5, color='magenta', alpha=0.75, clip_on=False)
    # other species
    for name, w in zip(ions, wls):
        ax.axvline(w, color='green', ls=(0, (3, 2)), lw=0.8, alpha=0.45, zorder=1)
        ax.text(w, 0.005, name, transform=trans, rotation=90, ha='right', va='bottom',
                fontsize=8.5, color='green', alpha=0.9)

    sns.lineplot(x=wo, y=fo, ax=ax, color='blue', lw=0.9, estimator=None, sort=False, zorder=3)
    sns.lineplot(x=wm, y=fm, ax=ax, color='red', lw=0.9, estimator=None, sort=False, zorder=4)

    ax.set_xlim(x0, x1)
    ax.set_ylim(*ylim)
    ax.xaxis.set_major_locator(MultipleLocator(25))
    ax.xaxis.set_minor_locator(MultipleLocator(5))
    ax.yaxis.set_major_locator(MultipleLocator(ystep))
    ax.yaxis.set_minor_locator(AutoMinorLocator(5))
    if ystep == 0.05:
        ax.yaxis.set_major_formatter(matplotlib.ticker.FormatStrFormatter('%.2f'))
    else:
        ax.yaxis.set_major_formatter(matplotlib.ticker.FormatStrFormatter('%.1f'))
    ax.tick_params(which='major', length=4.5, width=0.8, labelsize=11)
    ax.tick_params(which='minor', length=2.5, width=0.6)
    ax.set_xlabel(r'wavelength [$\AA$]', fontsize=11, labelpad=1)
    ax.set_ylabel('normalized flux', fontsize=11)
    for s in ax.spines.values():
        s.set_linewidth(0.9)
        s.set_color('#333333')

fig.text(0.007, 0.990, '28', fontsize=14, ha='left', va='center')
fig.text(0.516, 0.990, 'Idel Waisberg & Boaz Katz', fontsize=14, ha='center', va='center')

fig.savefig('out.png', dpi=100)
